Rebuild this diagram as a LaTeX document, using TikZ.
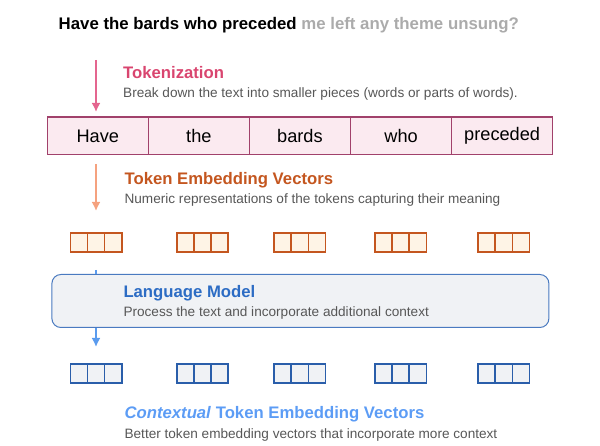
\documentclass[tikz,border=0pt]{standalone}
\usepackage{fontspec}
\setmainfont{Liberation Sans}
\usepackage{xcolor}
\usetikzlibrary{arrows.meta}

\definecolor{titlegray}{HTML}{ABABAB}
\definecolor{descgray}{HTML}{575757}
\definecolor{tokpink}{HTML}{D9456F}
\definecolor{pinkarr}{HTML}{E4658F}
\definecolor{tokfill}{HTML}{FBEAF0}
\definecolor{tokline}{HTML}{A1416B}
\definecolor{embhead}{HTML}{C4561F}
\definecolor{orangearr}{HTML}{F5A27F}
\definecolor{embfill}{HTML}{FEF4E6}
\definecolor{lmhead}{HTML}{2C6CC4}
\definecolor{bluearr}{HTML}{5A9BEE}
\definecolor{lmline}{HTML}{4A7AC0}
\definecolor{lmfill}{HTML}{F0F2F5}
\definecolor{ctxline}{HTML}{2A5EAA}
\definecolor{ctxhead}{HTML}{5C9CF5}

\tikzset{
  head/.style={anchor=west, inner sep=0pt, font=\fontsize{16.7}{19}\selectfont\bfseries},
  desc/.style={anchor=west, inner sep=0pt, text=descgray, font=\fontsize{13.6}{16}\selectfont},
  flow/.style={line width=1.8pt, -{Latex[length=9pt,width=9pt]}},
  tokcell/.style={draw=tokline, fill=tokfill, line width=1.3pt, minimum width=101pt,
    minimum height=37.7pt, font=\fontsize{18.2}{21}\selectfont},
  embcell/.style={draw=embhead, fill=embfill, line width=1.4pt},
  ctxcell/.style={draw=ctxline, fill=lmfill, line width=1.4pt}
}

\begin{document}
\begin{tikzpicture}[x=1pt,y=-1pt]
    \useasboundingbox (0,0) rectangle (600,446);

    % Prompt
    \node[anchor=west, inner sep=0pt, font=\fontsize{16.8}{19}\selectfont\bfseries] (prompt) at (58.5,25)
        {Have the bards who preceded \textcolor{titlegray}{me left any theme unsung?}};

    % Tokenization
    \coordinate (pinkA) at (96,60);
    \coordinate (pinkB) at (96,112);
    \draw[flow, pinkarr] (pinkA) -- (pinkB);
    \node[head, tokpink] (tokhead) at (123,73) {Tokenization};
    \node[desc] (tokdesc) at (123,94) {Break down the text into smaller pieces (words or parts of words).};

    % Tokens
    \foreach \w [count=\i] in {Have,the,bards,who,preceded} {
        \node[tokcell] (tok\i) at ({47.2+101.1*(\i-0.5)},136) {\w};
    }

    % Token embedding vectors
    \coordinate (orangeA) at (96,164);
    \coordinate (orangeB) at (96,211);
    \draw[flow, orangearr] (orangeA) -- (orangeB);
    \node[head, embhead] (embhead) at (124.4,180) {Token Embedding Vectors};
    \node[desc] (embdesc) at (124.4,200) {Numeric representations of the tokens capturing their meaning};
    \foreach \vx in {70.5,176.8,274,374.9,478} {
        \foreach \k in {0,1,2} {
            \draw[embcell] ({\vx+17.1*\k},233) rectangle ++(17.1,19);
        }
    }

    % Language model
    \node[draw=lmline, fill=lmfill, line width=1pt, rounded corners=9pt,
        minimum width=497pt, minimum height=53pt] (lm) at (300.4,301) {};
    \coordinate (blueA) at (96,270);
    \coordinate (blueB) at (96,347);
    \draw[line width=1.8pt, bluearr] (blueA) -- (lm.north -| blueA);
    \draw[flow, bluearr] (lm.south -| blueA) -- (blueB);
    \node[head, lmhead] (lmhead) at (123.3,293) {Language Model};
    \node[desc] (lmdesc) at (123.3,313) {Process the text and incorporate additional context};

    % Contextual vectors
    \foreach \vx in {70.5,176.8,274,374.9,478} {
        \foreach \k in {0,1,2} {
            \draw[ctxcell] ({\vx+17.1*\k},364) rectangle ++(17.1,19);
        }
    }
    \node[head, ctxhead] (ctxhead) at (124.4,414) {\textit{Contextual} Token Embedding Vectors};
    \node[desc] (ctxdesc) at (124.4,435) {Better token embedding vectors that incorporate more context};
\end{tikzpicture}
\end{document}
